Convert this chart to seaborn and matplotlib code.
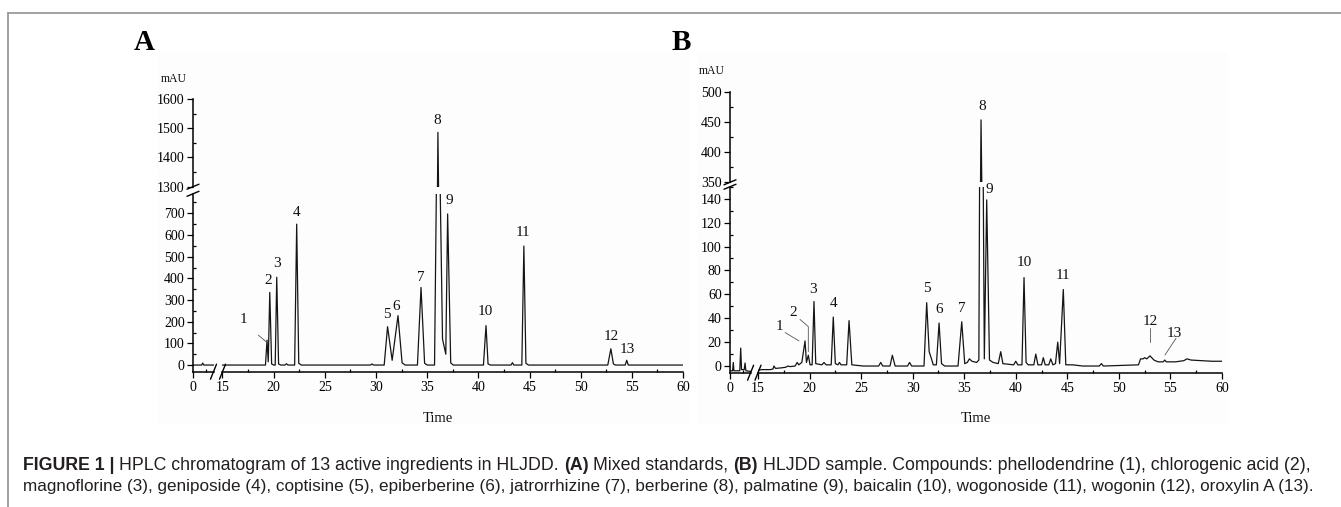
import numpy as np
import pandas as pd
import seaborn as sns
import matplotlib
matplotlib.use("Agg")
import matplotlib.pyplot as plt
from matplotlib.lines import Line2D
from matplotlib.patches import Rectangle
from matplotlib.ticker import MultipleLocator, FixedLocator

# ------------------------------------------------------------------ data
# Chromatogram A (mixed standards): retention time (min) and signal (mAU)
time_a = [0.0, 0.85, 0.95, 1.05, 2.0,
          15.0, 19.2, 19.35, 19.47, 19.62, 19.8, 20.0, 20.15, 20.3, 20.48, 20.7,
          21.1, 21.25, 21.4, 22.05, 22.25, 22.45, 22.7, 29.45, 29.6, 29.75,
          30.8, 31.13, 31.58, 32.15, 32.55, 32.85, 34.05, 34.4, 34.75, 35.0,
          35.72, 36.05, 36.5, 36.82, 37.0, 37.3, 37.55, 40.5, 40.75, 40.95, 41.2,
          43.2, 43.33, 43.47, 44.25, 44.45, 44.65, 44.9, 52.65, 52.95, 53.2, 53.4,
          54.35, 54.5, 54.65, 60.0]
signal_a = [0, 0, 9, 0, 0,
            0, 0, 115, 15, 335, 5, 0, 0, 405, 5, 0,
            0, 6, 0, 0, 650, 8, 0, 0, 5, 0,
            0, 177, 22, 228, 10, 0, 0, 358, 8, 0,
            0, 1486, 120, 50, 697, 10, 0, 0, 182, 5, 0,
            0, 11, 0, 0, 549, 8, 0, 0, 75, 5, 0,
            0, 22, 0, 0]

# Chromatogram B (HLJDD sample)
time_b = [0.0, 0.25, 0.32, 0.38, 0.95, 1.04, 1.12, 1.38, 1.46, 1.54, 2.0,
          15.0, 15.4, 16.2, 16.45, 16.55, 16.7, 17.3, 17.7, 17.9, 18.1, 18.6,
          18.8, 18.95, 19.25, 19.56, 19.7, 19.88, 20.05, 20.25, 20.43, 20.6,
          21.2, 21.4, 21.6, 22.1, 22.3, 22.5, 22.75, 22.9, 23.05, 23.6, 23.83,
          24.1, 25.2, 26.7, 26.9, 27.1, 27.8, 28.03, 28.3, 29.5, 29.7, 29.9,
          31.1, 31.36, 31.6, 31.75, 32.0, 32.3, 32.56, 32.8, 33.1, 34.4, 34.76,
          35.05, 35.3, 35.5, 35.75, 36.2, 36.42, 36.63, 36.95, 37.18, 37.45,
          37.8, 38.3, 38.54, 38.75, 39.8, 40.0, 40.2, 40.6, 40.8, 41.0, 41.2,
          41.75, 41.94, 42.15, 42.5, 42.67, 42.85, 43.2, 43.39, 43.6, 43.85,
          44.07, 44.25, 44.61, 44.85, 45.5, 46.5, 48.1, 48.3, 48.5, 51.9, 52.1,
          52.35, 52.5, 52.7, 53.02, 53.4, 53.8, 54.3, 54.45, 54.6, 55.5, 56.3,
          56.6, 57.0, 58.0, 59.0, 60.0]
signal_b = [-4, -4, 3, -4, -4, 15, -3, -3, 2.5, -4, -4.5,
            -3.5, -3, -3, -2.5, 0, -2, -1.5, -1, 0, -0.5, 0,
            3, 1, 3, 21, 3, 9, 1, 1, 54, 2,
            1, 3, 1, 1, 41, 2, 1, 3, 1, 1, 38,
            1, 0, 0, 3, 0, 0, 9, 0, 0, 3, 0,
            0, 53, 12, 8, 1, 1, 36, 2, 0, 0, 37,
            2, 3, 6, 4, 3, 5, 454, 6, 139, 5,
            3, 2, 12, 2, 1, 4, 1, 1, 74, 3, 1,
            1, 10, 1, 1, 7, 1, 1, 6, 1, 2,
            20, 2, 64, 1, 1, 0, 0, 2, 0, 1, 6,
            6, 7, 6, 8.5, 5, 3.5, 3.5, 5, 3.5, 3.5, 4.5,
            6, 5, 4.5, 4, 4]

peak_names = ["1", "2", "3", "4", "5", "6", "7", "8", "9", "10", "11", "12", "13"]

caption_line1 = [("FIGURE 1 |", "bold"),
                 ("HPLC chromatogram of 13 active ingredients in HLJDD.", "normal"),
                 ("(A)", "bold"), ("Mixed standards,", "normal"),
                 ("(B)", "bold"),
                 ("HLJDD sample. Compounds: phellodendrine (1), chlorogenic acid (2),", "normal")]
caption_line2 = [("magnoflorine (3), geniposide (4), coptisine (5), epiberberine (6), "
                  "jatrorrhizine (7), berberine (8), palmatine (9), baicalin (10), "
                  "wogonoside (11), wogonin (12), oroxylin A (13).", "normal")]

# ------------------------------------------------------------------ layout
W, H = 1341, 507
SERIF = ["Liberation Serif", "DejaVu Serif"]
SANS = ["Liberation Sans", "DejaVu Sans"]

layout_a = dict(x0=193, xl=213.5, x15=222.5, x60=683,
                ylo_bot=372.2, ylo_top=193.8, yup_bot=186.7, yup_top=99,
                ylo=(-33, 790), yup=(1300, 1600), ymaj_lo=100, ymin_lo=50,
                ymaj_up=100, ymin_up=50, letter="A", letter_xy=(144, 42),
                mau_xy=(174, 79), time_xy=(438, 418))
layout_b = dict(x0=730, xl=750.6, x15=758, x60=1222,
                ylo_bot=373.2, ylo_top=186.75, yup_bot=182.3, yup_top=92.3,
                ylo=(-6, 150), yup=(350, 500), ymaj_lo=20, ymin_lo=10,
                ymaj_up=50, ymin_up=25, letter="B", letter_xy=(681, 42),
                mau_xy=(712, 71), time_xy=(976, 418))

# peak label placement: (name index, time, y, on_upper)
labels_a = [(0, 17.03, 208, False), (1, 19.48, 392, False), (2, 20.36, 469, False),
            (3, 22.25, 703, False), (4, 31.05, 231, False), (5, 32.02, 272, False),
            (6, 34.4, 405, False), (7, 36.0, 1528, True), (8, 37.12, 761, False),
            (9, 40.72, 246, False), (10, 44.4, 612, False), (11, 52.95, 131, False),
            (12, 54.55, 72, False)]
leaders_a = [([18.5, 19.25], [138, 108])]
labels_b = [(0, 17.07, 33, False), (1, 18.37, 45, False), (2, 20.36, 64, False),
            (3, 22.3, 52, False), (4, 31.36, 65, False), (5, 32.58, 47, False),
            (6, 34.76, 48, False), (7, 36.7, 476, True), (8, 37.43, 148, False),
            (9, 40.83, 87, False), (10, 44.61, 76, False), (11, 53.02, 37, False),
            (12, 55.35, 27, False)]
leaders_b = [([17.63, 18.98], [28, 21]),
             ([19.07, 19.88, 19.88], [39, 33, 12]),
             ([53.02, 53.02], [31.5, 20.3]),
             ([55.54, 54.47], [23.2, 9.2])]

# ------------------------------------------------------------------ style
sns.set_theme(style="white")
plt.rcParams["font.family"] = SERIF
plt.rcParams["axes.linewidth"] = 1.1

fig = plt.figure(figsize=(W / 100, H / 100), dpi=100)
fig.patch.set_facecolor("white")


def fx(x):
    return x / W


def fy(y):
    return 1 - y / H


def box(x0, y0, x1, y1):
    return fig.add_axes([fx(x0), fy(y1), (x1 - x0) / W, (y1 - y0) / H])


def pline(xs, ys, **kw):
    fig.add_artist(Line2D([fx(v) for v in xs], [fy(v) for v in ys],
                          transform=fig.transFigure, **kw))


# very faint pasted-image backgrounds and outer frame
for (x0, y0, x1, y1) in [(157, 53, 690, 424), (697, 53, 1228, 424)]:
    fig.add_artist(Rectangle((fx(x0), fy(y1)), (x1 - x0) / W, (y1 - y0) / H,
                             transform=fig.transFigure, facecolor="#fdfdfd",
                             edgecolor="none", zorder=-10))
pline([8, W], [12.5, 12.5], color="#9a9a9a", lw=1.3)
pline([8, 8], [12.5, H], color="#9a9a9a", lw=1.3)


def style_axes(ax):
    ax.set_facecolor("none")
    ax.set_xlabel("")
    ax.set_ylabel("")
    for sp in ax.spines.values():
        sp.set_visible(False)
        sp.set_linewidth(1.1)
        sp.set_color("black")
    ax.tick_params(which="major", direction="out", length=4, width=0.9,
                   labelsize=10, pad=2, colors="black")
    ax.tick_params(which="minor", direction="in", length=2.5, width=0.9,
                   colors="black")
    ax.tick_params(which="both", top=False, right=False, left=False, bottom=False,
                   labelleft=False, labelbottom=False)


def draw_panel(L, t, s, labels, leaders):
    ll = box(L["x0"], L["ylo_top"], L["xl"], L["ylo_bot"])
    lr = box(L["x15"], L["ylo_top"], L["x60"], L["ylo_bot"])
    ul = box(L["x0"], L["yup_top"], L["xl"], L["yup_bot"])
    ur = box(L["x15"], L["yup_top"], L["x60"], L["yup_bot"])
    df = pd.DataFrame({"Time": t, "mAU": s})
    for ax, xl, yl in [(ll, (0, 2.0), L["ylo"]), (lr, (15, 60), L["ylo"]),
                       (ul, (0, 2.0), L["yup"]), (ur, (15, 60), L["yup"])]:
        sns.lineplot(data=df, x="Time", y="mAU", ax=ax, color="#151515",
                     linewidth=0.9, estimator=None, sort=False)
        ax.set_xlim(*xl)
        ax.set_ylim(*yl)
        style_axes(ax)
    # left (y) axes
    for ax, maj, mnr in [(ll, L["ymaj_lo"], L["ymin_lo"]), (ul, L["ymaj_up"], L["ymin_up"])]:
        ax.spines["left"].set_visible(True)
        ax.yaxis.set_major_locator(MultipleLocator(maj))
        ax.yaxis.set_minor_locator(MultipleLocator(mnr))
        ax.tick_params(axis="y", which="both", left=True)
        ax.tick_params(axis="y", which="major", labelleft=True)
    # bottom (x) axes
    for ax in (ll, lr):
        ax.spines["bottom"].set_visible(True)
        ax.tick_params(axis="x", which="both", bottom=True)
        ax.tick_params(axis="x", which="major", labelbottom=True)
    ll.xaxis.set_major_locator(FixedLocator([0]))
    ll.xaxis.set_minor_locator(FixedLocator([1.25]))
    lr.xaxis.set_major_locator(MultipleLocator(5))
    lr.xaxis.set_minor_locator(MultipleLocator(2.5))

    # peak labels and leader lines
    for idx, tt, yy, upper in labels:
        ax = ur if upper else lr
        ax.text(tt, yy, peak_names[idx], ha="center", va="center", fontsize=11,
                color="#111111", clip_on=False)
    for xs, ys in leaders:
        lr.plot(xs, ys, color="#555555", lw=0.6, clip_on=False)

    # break marks
    for x in (L["xl"], L["x15"]):
        pline([x - 3, x + 3], [L["ylo_bot"] + 7, L["ylo_bot"] - 8], color="black", lw=1.0)
    for y in (L["ylo_top"], L["yup_bot"]):
        pline([L["x0"] - 6, L["x0"] + 6], [y + 2.5, y - 2.5], color="black", lw=1.0)

    # texts
    fig.text(fx(L["mau_xy"][0]), fy(L["mau_xy"][1]), "mAU", ha="center", va="center",
             fontsize=8.5, color="#111111")
    fig.text(fx(L["time_xy"][0]), fy(L["time_xy"][1]), "Time", ha="center", va="center",
             fontsize=10.5, color="#111111")
    fig.text(fx(L["letter_xy"][0]), fy(L["letter_xy"][1]), L["letter"], ha="center",
             va="center", fontsize=21, fontweight="bold", color="black")


draw_panel(layout_a, time_a, signal_a, labels_a, leaders_a)
draw_panel(layout_b, time_b, signal_b, labels_b, leaders_b)

# ------------------------------------------------------------------ caption
renderer = fig.canvas.get_renderer()


def text_width(s, fs, weight):
    t = fig.text(0, 0, s, fontsize=fs, fontweight=weight, family=SANS)
    w = t.get_window_extent(renderer).width
    t.remove()
    return w


def line_width(pieces, fs):
    sp = text_width("a a", fs, "normal") - text_width("aa", fs, "normal")
    return sum(text_width(p, fs, w) for p, w in pieces) + sp * (len(pieces) - 1)


def draw_line(pieces, x, y, fs):
    sp = text_width("a a", fs, "normal") - text_width("aa", fs, "normal")
    for p, w in pieces:
        fig.text(fx(x), fy(y), p, fontsize=fs, fontweight=w, family=SANS,
                 color="#231f20", ha="left", va="baseline")
        x += text_width(p, fs, w) + sp


fs0 = 10.0
fs1 = fs0 * (1318 - 23) / line_width(caption_line1, fs0)
fs2 = fs0 * (1313 - 23) / line_width(caption_line2, fs0)
draw_line(caption_line1, 23, 470, fs1)
draw_line(caption_line2, 23, 491, fs2)

fig.savefig("out.png", dpi=100, facecolor="white")
